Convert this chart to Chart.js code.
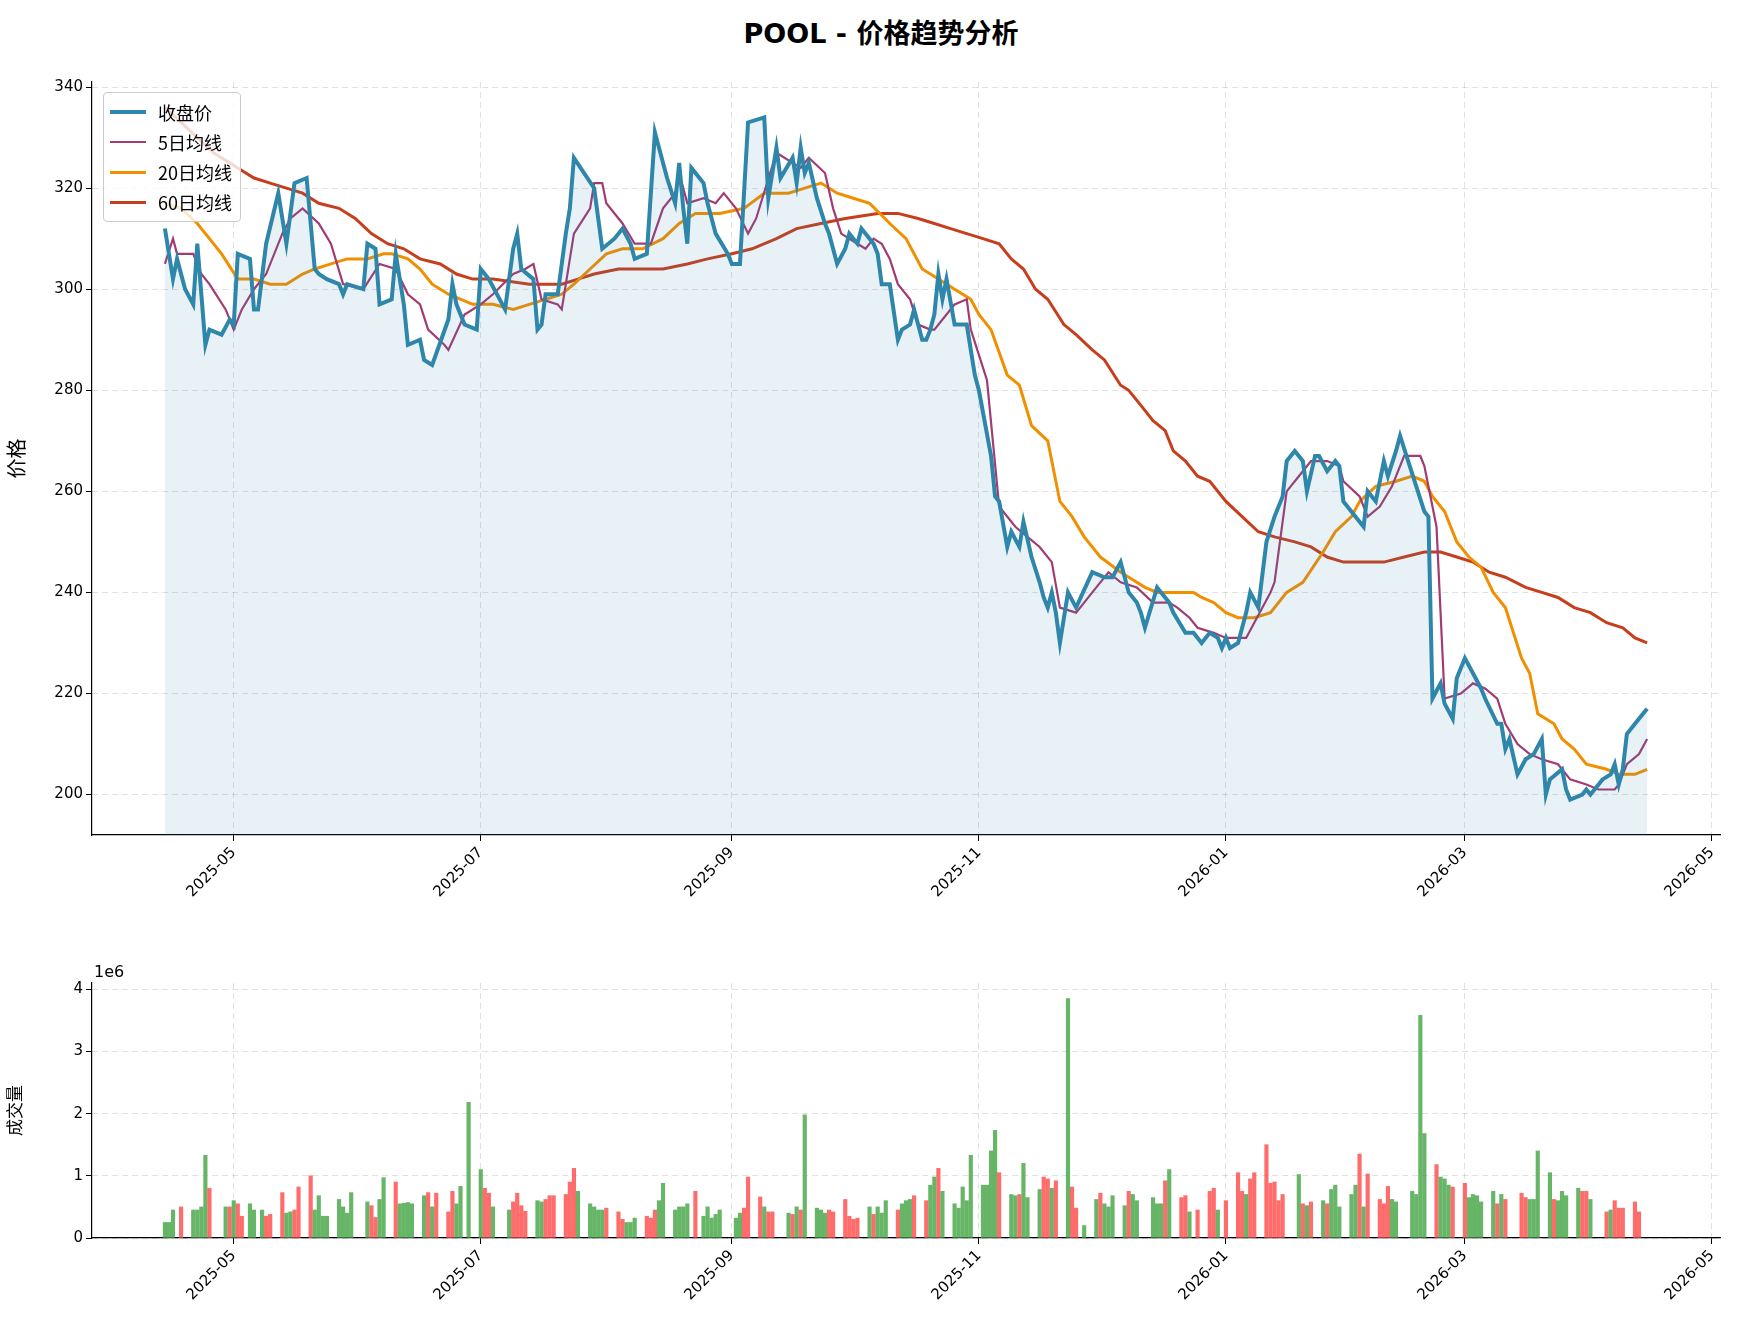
<!DOCTYPE html>
<html><head><meta charset="utf-8">
<script src="https://cdn.jsdelivr.net/npm/chart.js@4/dist/chart.umd.min.js"></script>
<style>
body{margin:0;background:#fff;width:1762px;height:1332px;position:relative;overflow:hidden;font-family:"DejaVu Sans","Noto Sans CJK SC",sans-serif;}
#title{position:absolute;top:12px;left:0;width:1762px;text-align:center;font-size:27px;font-weight:bold;font-family:"DejaVu Sans","Noto Sans CJK SC";}
#c1{position:absolute;left:0;top:0;}
#c2{position:absolute;left:0;top:940px;}
#legend{position:absolute;left:103px;top:92px;border:1px solid #ccc;border-radius:4px;background:rgba(255,255,255,0.8);padding:4px 8px 4px 6px;font-size:18px;font-family:"Noto Sans CJK SC";}
#legend div{display:flex;align-items:center;height:30px;}
#legend span.l{display:inline-block;width:36px;margin-right:12px;}
#e6{position:absolute;left:94px;top:962px;font-size:16px;font-family:"DejaVu Sans";}
</style></head><body>
<div id="title">POOL - 价格趋势分析</div>
<canvas id="c1" width="1762" height="940"></canvas>
<canvas id="c2" width="1762" height="392"></canvas>
<div id="legend"></div>
<div id="e6">1e6</div>
<script>
const START = Date.UTC(2025,3,14);
const tickMonths = ["2025-05","2025-07","2025-09","2025-11","2026-01","2026-03","2026-05"];
const seriesNames = ["收盘价","5日均线","20日均线","60日均线"];
const closeDays = [0,2,3,5,7,8,10,11,14,16,17,18,21,22,23,25,28,30,32,35,37,38,40,43,44,45,49,50,52,53,56,57,59,60,63,64,66,70,71,72,74,77,78,80,84,86,87,88,91,92,93,94,97,99,100,101,106,107,108,111,113,115,116,119,121,124,126,127,128,129,130,133,134,136,139,140,142,144,148,149,151,152,155,156,157,158,159,161,163,164,166,168,169,171,172,175,176,177,179,181,182,184,185,187,188,189,190,191,192,193,195,197,198,199,200,201,204,205,206,208,209,211,212,214,216,217,218,219,220,221,223,225,229,232,234,236,238,240,241,242,245,246,248,249,252,254,256,258,260,261,262,263,265,266,267,268,270,272,274,276,277,279,281,282,284,285,287,289,290,291,295,296,297,299,301,302,304,305,307,309,311,312,313,315,316,318,319,321,323,325,326,329,330,331,332,334,336,338,340,341,342,345,346,347,350,351,352,355,357,358,359,360,361,364,366];
const closeVals = [312,302,306,300,297,309,289,292,291,294,293,307,306,296,296,309,319,309,321,322,304,303,302,301,299,301,300,309,308,297,298,307,297,289,290,286,285,294,301,297,293,292,304,302,296,308,311,304,302,292,293,299,299,311,316,326,320,314,308,310,312,309,306,307,331,322,317,325,316,309,324,321,317,311,307,305,305,333,334,318,328,322,326,321,328,323,325,318,313,311,305,308,311,309,312,309,307,301,301,290,292,293,296,290,290,292,295,303,298,302,293,293,293,288,283,280,267,259,258,249,252,249,254,247,242,239,237,240,236,230,240,237,244,243,243,246,240,238,236,233,241,240,238,236,232,232,230,232,231,229,231,229,230,233,236,240,237,250,255,259,266,268,266,260,267,267,264,266,265,258,254,253,260,258,266,263,268,271,266,261,256,255,219,222,218,215,223,227,224,221,219,214,214,209,211,204,207,208,211,200,203,205,201,199,200,201,200,203,204,206,202,205,212,215,217,218];
const ma5Days = [0,2,3,7,9,11,15,17,19,22,25,29,31,34,38,41,44,49,53,57,60,63,65,69,70,74,78,81,86,89,91,93,97,98,101,105,106,108,109,113,116,120,123,126,127,129,133,136,138,141,144,146,151,155,157,159,163,165,167,171,173,175,177,179,181,184,186,189,190,193,195,198,199,201,203,206,210,213,216,219,221,225,229,233,236,240,244,248,250,253,255,259,262,265,267,269,273,274,277,280,283,287,290,291,295,297,300,303,306,310,311,314,316,320,323,326,329,331,334,337,340,344,347,351,354,358,359,361,364,366];
const ma5Vals = [305,310,307,307,303,301,296,292,296,300,303,311,314,316,313,309,301,300,305,304,299,297,292,289,288,295,297,299,303,304,305,298,297,296,311,316,321,321,317,313,309,309,316,319,323,317,318,317,319,316,311,314,327,325,324,326,323,316,311,309,308,310,309,306,301,298,293,292,292,295,297,298,292,287,282,257,253,251,249,246,237,236,240,244,242,241,238,238,237,235,233,232,231,231,231,234,240,242,260,263,266,266,265,262,259,255,257,261,267,267,265,253,219,220,222,221,219,214,210,208,207,206,203,202,201,201,202,206,208,211];
const ma20Days = [0,4,8,11,14,18,22,26,30,34,37,41,45,50,54,56,60,63,66,70,76,81,86,90,94,98,101,105,109,113,118,123,127,131,137,143,148,154,158,162,166,170,174,179,183,187,191,195,199,201,204,208,211,214,218,221,224,227,231,236,238,242,245,248,254,256,259,262,265,269,273,277,281,286,289,293,295,299,304,308,311,313,316,319,322,325,328,331,335,337,339,343,345,348,351,356,359,363,366];
const ma20Vals = [317,316,313,310,307,302,302,301,301,303,304,305,306,306,307,307,306,304,301,299,297,297,296,297,298,299,301,304,307,308,308,310,313,315,315,316,319,319,320,321,319,318,317,313,310,304,302,300,298,295,292,283,281,273,270,258,255,251,247,244,243,241,240,240,240,239,238,236,235,235,236,240,242,248,252,255,258,261,262,263,262,259,256,250,247,245,240,237,227,224,216,214,211,209,206,205,204,204,205];
const ma60Days = [0,4,8,12,18,22,26,30,34,38,43,47,51,55,59,63,68,72,76,81,90,98,102,106,112,118,123,129,134,140,145,151,156,162,168,176,181,186,190,194,198,202,206,209,212,215,218,222,225,229,232,236,238,241,244,247,249,252,255,258,262,266,270,274,279,283,287,291,295,301,306,311,315,319,323,327,331,336,340,344,348,352,356,360,363,366];
const ma60Vals = [336,333,330,327,324,322,321,320,319,317,316,314,311,309,308,306,305,303,302,302,301,301,302,303,304,304,304,305,306,307,308,310,312,313,314,315,315,314,313,312,311,310,309,306,304,300,298,293,291,288,286,281,280,277,274,272,268,266,263,262,258,255,252,251,250,249,247,246,246,246,247,248,248,247,246,244,243,241,240,239,237,236,234,233,231,230];
const volDays = [0,1,2,4,7,8,9,10,11,15,16,17,18,19,21,22,24,25,26,29,30,31,32,33,36,37,38,39,40,43,44,45,46,50,51,52,53,54,57,58,59,60,61,64,65,66,67,70,71,72,73,75,78,79,80,81,85,86,87,88,89,92,93,94,95,96,99,100,101,102,105,106,107,108,109,112,113,114,115,116,119,120,121,122,123,126,127,128,129,131,133,134,135,136,137,141,142,143,144,147,148,149,150,154,155,156,157,158,161,162,163,164,165,168,169,170,171,174,175,176,177,178,181,182,183,184,185,188,189,190,191,192,195,196,197,198,199,202,203,204,205,206,209,210,211,212,213,216,217,218,219,220,223,224,225,227,230,231,232,233,234,237,238,239,240,244,245,246,247,248,251,252,253,255,258,259,260,262,265,266,267,268,269,272,273,274,275,276,280,281,282,283,286,287,288,289,290,293,294,295,296,297,300,301,302,303,304,308,309,310,311,314,315,316,317,318,321,322,323,324,325,328,329,330,331,335,336,337,338,339,342,343,344,345,346,349,350,351,352,356,357,358,359,360,363,364];
const volVals = [0.25,0.25,0.45,0.5,0.45,0.45,0.5,1.33,0.8,0.5,0.5,0.6,0.55,0.35,0.55,0.45,0.45,0.35,0.38,0.73,0.4,0.42,0.45,0.82,1.0,0.45,0.68,0.35,0.35,0.62,0.5,0.4,0.73,0.58,0.52,0.33,0.62,0.97,0.9,0.55,0.56,0.57,0.55,0.68,0.73,0.5,0.72,0.42,0.75,0.55,0.83,2.18,1.1,0.8,0.72,0.5,0.45,0.58,0.72,0.52,0.43,0.6,0.58,0.62,0.68,0.68,0.7,0.9,1.12,0.75,0.55,0.5,0.45,0.45,0.48,0.42,0.3,0.25,0.25,0.32,0.35,0.32,0.45,0.6,0.88,0.45,0.5,0.5,0.55,0.75,0.35,0.5,0.32,0.38,0.45,0.32,0.4,0.48,0.98,0.66,0.5,0.42,0.42,0.4,0.38,0.5,0.45,1.98,0.48,0.45,0.4,0.45,0.42,0.62,0.35,0.3,0.32,0.5,0.38,0.5,0.4,0.6,0.45,0.55,0.6,0.62,0.68,0.6,0.85,0.98,1.12,0.75,0.55,0.48,0.82,0.6,1.33,0.85,0.85,1.4,1.73,1.05,0.7,0.68,0.7,1.2,0.65,0.78,0.98,0.95,0.8,0.92,3.85,0.82,0.48,0.2,0.62,0.72,0.55,0.5,0.68,0.52,0.75,0.7,0.6,0.65,0.55,0.55,0.92,1.1,0.65,0.68,0.42,0.45,0.75,0.8,0.45,0.6,1.05,0.75,0.7,0.95,1.05,1.5,0.88,0.9,0.6,0.7,1.02,0.55,0.52,0.58,0.6,0.55,0.78,0.85,0.5,0.7,0.85,1.35,0.5,1.03,0.62,0.55,0.83,0.62,0.58,0.75,0.7,3.58,1.68,1.18,0.98,0.95,0.85,0.82,0.88,0.65,0.7,0.68,0.58,0.75,0.55,0.7,0.62,0.72,0.65,0.62,0.62,1.4,1.05,0.62,0.6,0.75,0.68,0.8,0.75,0.75,0.62,0.42,0.45,0.6,0.48,0.48,0.58,0.42];
const volUp = ("GGGR GGGGR GRGRR GGGRR RGGRR RGGGG GGGG GRRGG RGGGG GRGR RRGGG GRRG GRRRR GGRRR RRRG GGGGR RRGGG RRRGG GGGGR GGGGG GGRR RGRR GRGRG GGGRR RRRR GRGGG RGGGR RGGRG GGGGG GGGGR GGRGG GRRGR GRR G GRGGG GRGG GGGRG RRGR RRGR RRGRR RRRRR GRGR GRGGG GGRGR RRRGG GGGGR GGGRR GGGGG RGRR RGGGG RGGGG RRGR GRRRR RR").replace(/ /g,'').split('');
</script>
<script>
const C = {close:'#2e86ab', ma5:'#a23b72', ma20:'#f18f01', ma60:'#c73e1d'};
const FONT = '"DejaVu Sans","Noto Sans CJK SC"';
function monthDay(m){const [y,mo]=m.split('-').map(Number);return (Date.UTC(y,mo-1,1)-START)/86400000;}
const tickVals = tickMonths.map(monthDay);
function pts(d,v,s){return d.map((x,i)=>({x:x,y:v[i]*(s||1)}));}
function xScale(){
  return {type:'linear',min:-18,max:384,offset:false,
    afterBuildTicks:s=>{s.ticks=tickVals.map(v=>({value:v}));},
    ticks:{autoSkip:false,maxRotation:45,minRotation:45,color:'#000',font:{size:15,family:FONT},
      callback:(v)=>{const i=tickVals.indexOf(v);return i>=0?tickMonths[i]:'';}},
    grid:{offset:false,color:'rgba(0,0,0,0.12)',tickColor:'#000',tickLength:6},
    border:{display:true,color:'#000',width:1.2,dash:[6,4]}};
}
Chart.defaults.font.family = FONT;
const legend = document.getElementById('legend');
[[C.close,4],[C.ma5,2.5],[C.ma20,3],[C.ma60,3]].forEach((c,i)=>{
  const d=document.createElement('div');
  d.innerHTML='<span class="l" style="height:'+c[1]+'px;background:'+c[0]+'"></span>'+seriesNames[i];
  legend.appendChild(d);
});
new Chart(document.getElementById('c1'),{
  type:'line',
  data:{datasets:[
    {label:seriesNames[0],data:pts(closeDays,closeVals),borderColor:C.close,borderWidth:4,pointRadius:0,fill:'start',backgroundColor:'rgba(46,134,171,0.11)',tension:0},
    {label:seriesNames[1],data:pts(ma5Days,ma5Vals),borderColor:C.ma5,borderWidth:2.2,pointRadius:0,fill:false},
    {label:seriesNames[2],data:pts(ma20Days,ma20Vals),borderColor:C.ma20,borderWidth:3,pointRadius:0,fill:false},
    {label:seriesNames[3],data:pts(ma60Days,ma60Vals),borderColor:C.ma60,borderWidth:3,pointRadius:0,fill:false}
  ]},
  options:{responsive:false,animation:false,
    layout:{padding:{top:82,right:42,left:0,bottom:0}},
    plugins:{legend:{display:false},tooltip:{enabled:false}},
    scales:{
      x:Object.assign(xScale(),{afterFit:s=>{s.height=940-835;}}),
      y:{min:192,max:341,
        afterBuildTicks:s=>{s.ticks=[200,220,240,260,280,300,320,340].map(v=>({value:v}));},
        ticks:{color:'#000',font:{size:15,family:FONT}},
        title:{display:true,text:'价格',color:'#000',font:{size:20,family:'"Noto Sans CJK SC"'}},
        grid:{color:'rgba(0,0,0,0.12)',tickColor:'#000',tickLength:6},
        border:{display:true,color:'#000',width:1.2,dash:[6,4]},
        afterFit:s=>{s.width=92;}}
    }}
});
new Chart(document.getElementById('c2'),{
  type:'bar',
  data:{datasets:[{data:pts(volDays,volVals,1e6),
    backgroundColor:volDays.map((d,i)=>volUp[i]==='R'?'rgba(255,82,82,0.85)':'rgba(76,168,76,0.85)'),
    barThickness:3.5}]},
  options:{responsive:false,animation:false,
    layout:{padding:{top:43,right:42,left:0,bottom:0}},
    plugins:{legend:{display:false},tooltip:{enabled:false}},
    scales:{
      x:Object.assign(xScale(),{afterFit:s=>{s.height=1332-1238;}}),
      y:{min:0,max:4.1e6,
        afterBuildTicks:s=>{s.ticks=[0,1e6,2e6,3e6,4e6].map(v=>({value:v}));},
        ticks:{color:'#000',font:{size:15,family:FONT},callback:v=>String(v/1e6)},
        title:{display:true,text:'成交量',color:'#000',font:{size:17,family:'"Noto Sans CJK SC"'}},
        grid:{color:'rgba(0,0,0,0.12)',tickColor:'#000',tickLength:6},
        border:{display:true,color:'#000',width:1.2,dash:[6,4]},
        afterFit:s=>{s.width=92;}}
    }}
});
</script>
</body></html>
